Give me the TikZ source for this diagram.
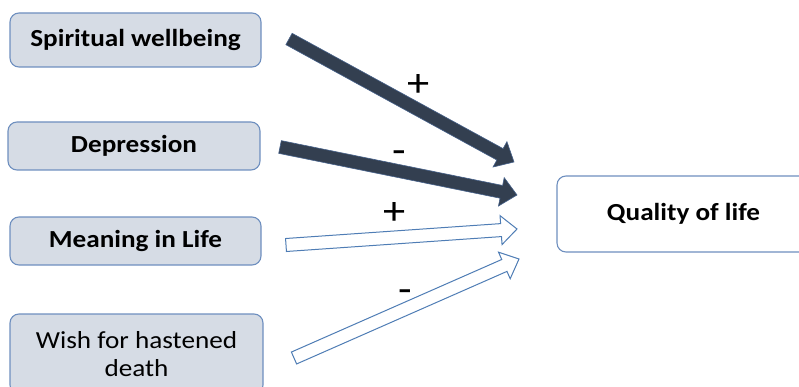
\documentclass[tikz,border=0pt]{standalone}
\usepackage{fontspec}
\setmainfont{Carlito}[FakeStretch=1.11]
\usetikzlibrary{calc}
\definecolor{boxfill}{HTML}{D6DCE5}
\definecolor{boxline}{HTML}{6E8FBF}
\definecolor{darkarrow}{HTML}{333F50}
\definecolor{darkedge}{HTML}{46618A}
\definecolor{arrowline}{HTML}{4F7DB5}
\newcommand\fsz{\fontsize{24.5}{28}\selectfont}
\newcommand\sgnsz{\fontsize{40}{44}\selectfont}
\newcommand\blockarrow[3]{%
  \coordinate (ah) at ($(#3)!16pt!(#2)$);
  \path[#1] ($(#2)!6.5pt!90:(#3)$) -- ($(ah)!6.5pt!90:(#3)$) -- ($(ah)!14.5pt!90:(#3)$)
    -- (#3) -- ($(ah)!14.5pt!-90:(#3)$) -- ($(ah)!6.5pt!-90:(#3)$) -- ($(#2)!6.5pt!-90:(#3)$) -- cycle;}
\tikzset{
  src/.style={draw=boxline, fill=boxfill, line width=1.1pt, rounded corners=9pt,
    inner sep=0pt, font=\fsz, align=center},
  darkarr/.style={fill=darkarrow, draw=darkedge, line width=0.6pt},
  openarr/.style={fill=white, draw=arrowline, line width=1pt},
  sign/.style={font=\sgnsz, inner sep=0pt, anchor=base}
}
\begin{document}
\begin{tikzpicture}[x=1pt,y=-1pt]
\useasboundingbox (0,0) rectangle (799,387);
\clip (0,0) rectangle (799,387);
\node[src, minimum width=251pt, minimum height=54pt, font=\fsz\bfseries] (sw) at (135.5,40) {Spiritual wellbeing};
\node[src, minimum width=252pt, minimum height=48pt, font=\fsz\bfseries] (dep) at (134,146) {Depression};
\node[src, minimum width=251pt, minimum height=48pt, font=\fsz\bfseries] (mil) at (135.5,241) {Meaning in Life};
\node[src, minimum width=253pt, minimum height=80pt] (whd) at (136.5,354) {Wish for hastened\\death};
\node[src, fill=white, minimum width=253pt, minimum height=76pt, font=\fsz\bfseries] (qol) at (683.5,214) {Quality of life};
\coordinate (t1) at (289,39);  \coordinate (h1) at (514,162);
\coordinate (t2) at (280,147); \coordinate (h2) at (517,195);
\coordinate (t3) at (286,245); \coordinate (h3) at (517,229);
\coordinate (t4) at (294,358); \coordinate (h4) at (519,259);
\blockarrow{darkarr}{t1}{h1}
\blockarrow{darkarr}{t2}{h2}
\blockarrow{openarr}{t3}{h3}
\blockarrow{openarr}{t4}{h4}
\node[sign] (s1) at (419,97) {+};
\node[sign] (s2) at (399,164) {-};
\node[sign] (s3) at (395,224) {+};
\node[sign] (s4) at (405,302) {-};
\end{tikzpicture}
\end{document}
